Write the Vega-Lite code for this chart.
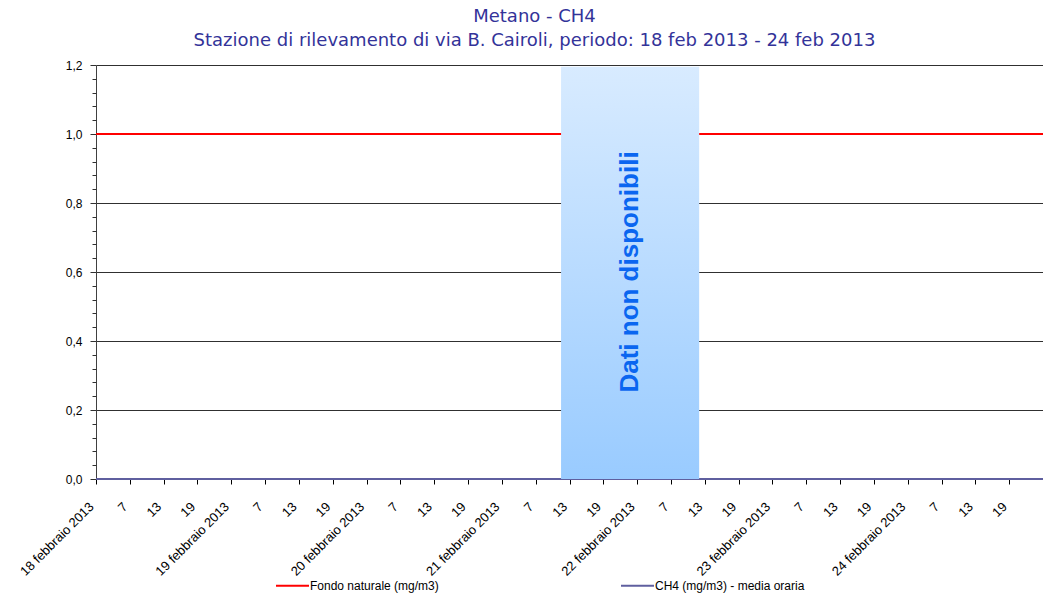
{
  "$schema": "https://vega.github.io/schema/vega-lite/v6.json",
  "width": 947,
  "height": 414,
  "autosize": {"type": "none"},
  "padding": {"left": 96, "top": 65, "right": 0, "bottom": 115},
  "background": "white",
  "config": {
    "view": {"stroke": null},
    "font": "Liberation Sans",
    "axis": {"labelOverlap": false},
    "axisX": {"labelOverlap": false, "labelBound": false, "labelFlush": false}
  },
  "title": {
    "text": ["Metano - CH4", "Stazione di rilevamento di via B. Cairoli, periodo: 18 feb 2013 - 24 feb 2013"],
    "font": "DejaVu Sans",
    "fontSize": 18,
    "fontWeight": "normal",
    "color": "#333399",
    "lineHeight": 24,
    "anchor": "middle",
    "dx": -35,
    "offset": 9
  },
  "datasets": {
    "serie": [
      {"t": "2013-02-18T01:00:00Z", "serie": "Fondo naturale  (mg/m3)", "valore": 1.0},
      {"t": "2013-02-18T07:00:00Z", "serie": "Fondo naturale  (mg/m3)", "valore": 1.0},
      {"t": "2013-02-18T13:00:00Z", "serie": "Fondo naturale  (mg/m3)", "valore": 1.0},
      {"t": "2013-02-18T19:00:00Z", "serie": "Fondo naturale  (mg/m3)", "valore": 1.0},
      {"t": "2013-02-19T01:00:00Z", "serie": "Fondo naturale  (mg/m3)", "valore": 1.0},
      {"t": "2013-02-19T07:00:00Z", "serie": "Fondo naturale  (mg/m3)", "valore": 1.0},
      {"t": "2013-02-19T13:00:00Z", "serie": "Fondo naturale  (mg/m3)", "valore": 1.0},
      {"t": "2013-02-19T19:00:00Z", "serie": "Fondo naturale  (mg/m3)", "valore": 1.0},
      {"t": "2013-02-20T01:00:00Z", "serie": "Fondo naturale  (mg/m3)", "valore": 1.0},
      {"t": "2013-02-20T07:00:00Z", "serie": "Fondo naturale  (mg/m3)", "valore": 1.0},
      {"t": "2013-02-20T13:00:00Z", "serie": "Fondo naturale  (mg/m3)", "valore": 1.0},
      {"t": "2013-02-20T19:00:00Z", "serie": "Fondo naturale  (mg/m3)", "valore": 1.0},
      {"t": "2013-02-21T01:00:00Z", "serie": "Fondo naturale  (mg/m3)", "valore": 1.0},
      {"t": "2013-02-21T07:00:00Z", "serie": "Fondo naturale  (mg/m3)", "valore": 1.0},
      {"t": "2013-02-21T13:00:00Z", "serie": "Fondo naturale  (mg/m3)", "valore": 1.0},
      {"t": "2013-02-21T19:00:00Z", "serie": "Fondo naturale  (mg/m3)", "valore": 1.0},
      {"t": "2013-02-22T01:00:00Z", "serie": "Fondo naturale  (mg/m3)", "valore": 1.0},
      {"t": "2013-02-22T07:00:00Z", "serie": "Fondo naturale  (mg/m3)", "valore": 1.0},
      {"t": "2013-02-22T13:00:00Z", "serie": "Fondo naturale  (mg/m3)", "valore": 1.0},
      {"t": "2013-02-22T19:00:00Z", "serie": "Fondo naturale  (mg/m3)", "valore": 1.0},
      {"t": "2013-02-23T01:00:00Z", "serie": "Fondo naturale  (mg/m3)", "valore": 1.0},
      {"t": "2013-02-23T07:00:00Z", "serie": "Fondo naturale  (mg/m3)", "valore": 1.0},
      {"t": "2013-02-23T13:00:00Z", "serie": "Fondo naturale  (mg/m3)", "valore": 1.0},
      {"t": "2013-02-23T19:00:00Z", "serie": "Fondo naturale  (mg/m3)", "valore": 1.0},
      {"t": "2013-02-24T01:00:00Z", "serie": "Fondo naturale  (mg/m3)", "valore": 1.0},
      {"t": "2013-02-24T07:00:00Z", "serie": "Fondo naturale  (mg/m3)", "valore": 1.0},
      {"t": "2013-02-24T13:00:00Z", "serie": "Fondo naturale  (mg/m3)", "valore": 1.0},
      {"t": "2013-02-24T19:00:00Z", "serie": "Fondo naturale  (mg/m3)", "valore": 1.0},
      {"t": "2013-02-25T01:00:00Z", "serie": "Fondo naturale  (mg/m3)", "valore": 1.0},
      {"t": "2013-02-18T01:00:00Z", "serie": "CH4 (mg/m3)  - media oraria", "valore": 0.0},
      {"t": "2013-02-18T07:00:00Z", "serie": "CH4 (mg/m3)  - media oraria", "valore": 0.0},
      {"t": "2013-02-18T13:00:00Z", "serie": "CH4 (mg/m3)  - media oraria", "valore": 0.0},
      {"t": "2013-02-18T19:00:00Z", "serie": "CH4 (mg/m3)  - media oraria", "valore": 0.0},
      {"t": "2013-02-19T01:00:00Z", "serie": "CH4 (mg/m3)  - media oraria", "valore": 0.0},
      {"t": "2013-02-19T07:00:00Z", "serie": "CH4 (mg/m3)  - media oraria", "valore": 0.0},
      {"t": "2013-02-19T13:00:00Z", "serie": "CH4 (mg/m3)  - media oraria", "valore": 0.0},
      {"t": "2013-02-19T19:00:00Z", "serie": "CH4 (mg/m3)  - media oraria", "valore": 0.0},
      {"t": "2013-02-20T01:00:00Z", "serie": "CH4 (mg/m3)  - media oraria", "valore": 0.0},
      {"t": "2013-02-20T07:00:00Z", "serie": "CH4 (mg/m3)  - media oraria", "valore": 0.0},
      {"t": "2013-02-20T13:00:00Z", "serie": "CH4 (mg/m3)  - media oraria", "valore": 0.0},
      {"t": "2013-02-20T19:00:00Z", "serie": "CH4 (mg/m3)  - media oraria", "valore": 0.0},
      {"t": "2013-02-21T01:00:00Z", "serie": "CH4 (mg/m3)  - media oraria", "valore": 0.0},
      {"t": "2013-02-21T07:00:00Z", "serie": "CH4 (mg/m3)  - media oraria", "valore": 0.0},
      {"t": "2013-02-21T11:00:00Z", "serie": "CH4 (mg/m3)  - media oraria", "valore": 0.0},
      {"t": "2013-02-22T12:00:00Z", "serie": "CH4 (mg/m3)  - media oraria", "valore": 0.0},
      {"t": "2013-02-22T13:00:00Z", "serie": "CH4 (mg/m3)  - media oraria", "valore": 0.0},
      {"t": "2013-02-22T19:00:00Z", "serie": "CH4 (mg/m3)  - media oraria", "valore": 0.0},
      {"t": "2013-02-23T01:00:00Z", "serie": "CH4 (mg/m3)  - media oraria", "valore": 0.0},
      {"t": "2013-02-23T07:00:00Z", "serie": "CH4 (mg/m3)  - media oraria", "valore": 0.0},
      {"t": "2013-02-23T13:00:00Z", "serie": "CH4 (mg/m3)  - media oraria", "valore": 0.0},
      {"t": "2013-02-23T19:00:00Z", "serie": "CH4 (mg/m3)  - media oraria", "valore": 0.0},
      {"t": "2013-02-24T01:00:00Z", "serie": "CH4 (mg/m3)  - media oraria", "valore": 0.0},
      {"t": "2013-02-24T07:00:00Z", "serie": "CH4 (mg/m3)  - media oraria", "valore": 0.0},
      {"t": "2013-02-24T13:00:00Z", "serie": "CH4 (mg/m3)  - media oraria", "valore": 0.0},
      {"t": "2013-02-24T19:00:00Z", "serie": "CH4 (mg/m3)  - media oraria", "valore": 0.0},
      {"t": "2013-02-25T01:00:00Z", "serie": "CH4 (mg/m3)  - media oraria", "valore": 0.0}
    ],
    "mancanti": [
      {"inizio": "2013-02-21T11:30:00Z", "fine": "2013-02-22T12:00:00Z", "centro": "2013-02-21T23:45:00Z", "ymin": 0, "ymax": 1.195, "ytesto": 0.6, "etichetta": "Dati non disponibili"}
    ]
  },
  "resolve": {"axis": {"y": "independent"}},
  "layer": [
    {
      "data": {"name": "serie"},
      "mark": {"type": "line", "strokeWidth": 2},
      "encoding": {
        "x": {
          "field": "t", "type": "temporal",
          "scale": {"type": "utc", "domain": [{"year": 2013, "month": 2, "date": 18, "hours": 1, "utc": true}, {"year": 2013, "month": 2, "date": 25, "hours": 1, "utc": true}]},
          "axis": {
            "title": null,
            "tickCount": 40,
            "values": [
              {"year": 2013, "month": 2, "date": 18, "hours": 1, "utc": true},
              {"year": 2013, "month": 2, "date": 18, "hours": 7, "utc": true},
              {"year": 2013, "month": 2, "date": 18, "hours": 13, "utc": true},
              {"year": 2013, "month": 2, "date": 18, "hours": 19, "utc": true},
              {"year": 2013, "month": 2, "date": 19, "hours": 1, "utc": true},
              {"year": 2013, "month": 2, "date": 19, "hours": 7, "utc": true},
              {"year": 2013, "month": 2, "date": 19, "hours": 13, "utc": true},
              {"year": 2013, "month": 2, "date": 19, "hours": 19, "utc": true},
              {"year": 2013, "month": 2, "date": 20, "hours": 1, "utc": true},
              {"year": 2013, "month": 2, "date": 20, "hours": 7, "utc": true},
              {"year": 2013, "month": 2, "date": 20, "hours": 13, "utc": true},
              {"year": 2013, "month": 2, "date": 20, "hours": 19, "utc": true},
              {"year": 2013, "month": 2, "date": 21, "hours": 1, "utc": true},
              {"year": 2013, "month": 2, "date": 21, "hours": 7, "utc": true},
              {"year": 2013, "month": 2, "date": 21, "hours": 13, "utc": true},
              {"year": 2013, "month": 2, "date": 21, "hours": 19, "utc": true},
              {"year": 2013, "month": 2, "date": 22, "hours": 1, "utc": true},
              {"year": 2013, "month": 2, "date": 22, "hours": 7, "utc": true},
              {"year": 2013, "month": 2, "date": 22, "hours": 13, "utc": true},
              {"year": 2013, "month": 2, "date": 22, "hours": 19, "utc": true},
              {"year": 2013, "month": 2, "date": 23, "hours": 1, "utc": true},
              {"year": 2013, "month": 2, "date": 23, "hours": 7, "utc": true},
              {"year": 2013, "month": 2, "date": 23, "hours": 13, "utc": true},
              {"year": 2013, "month": 2, "date": 23, "hours": 19, "utc": true},
              {"year": 2013, "month": 2, "date": 24, "hours": 1, "utc": true},
              {"year": 2013, "month": 2, "date": 24, "hours": 7, "utc": true},
              {"year": 2013, "month": 2, "date": 24, "hours": 13, "utc": true},
              {"year": 2013, "month": 2, "date": 24, "hours": 19, "utc": true}
            ],
            "labelExpr": "utchours(datum.value) == 1 ? utcdate(datum.value) + ' febbraio 2013' : '' + utchours(datum.value)",
            "labelAngle": -45,
            "labelAlign": "right",
            "labelBaseline": "top",
            "labelFont": "Liberation Sans",
            "labelFontSize": 13,
            "labelColor": "#000000",
            "labelPadding": 16,
            "labelOffset": -9,
            "labelOverlap": false,
            "labelFlush": false,
            "labelBound": false,
            "tickSize": 5,
            "tickColor": "#000000",
            "domainColor": "#000000",
            "domainWidth": 1,
            "grid": false
          }
        },
        "y": {
          "field": "valore", "type": "quantitative",
          "scale": {"domain": [0, 1.2], "nice": false, "zero": true},
          "axis": {
            "title": null,
            "orient": "left",
            "tickCount": 10,
            "values": [0, 0.2, 0.4, 0.6, 0.8, 1.0, 1.2],
            "labelExpr": "replace(format(datum.value, '.1f'), '.', ',')",
            "labelFont": "Liberation Sans",
            "labelFontSize": 12,
            "labelColor": "#000000",
            "labelPadding": 8,
            "tickSize": 6,
            "tickColor": "#303030",
            "domainColor": "#404040",
            "grid": true,
            "gridColor": "#303030",
            "gridOpacity": 1,
            "gridWidth": 1
          }
        },
        "color": {
          "field": "serie", "type": "nominal",
          "scale": {"domain": ["Fondo naturale  (mg/m3)", "CH4 (mg/m3)  - media oraria"], "range": ["#ff0000", "#5f5f9f"]},
          "legend": {
            "title": null,
            "orient": "none",
            "direction": "horizontal",
            "columns": 2,
            "columnPadding": 174,
            "legendX": 179,
            "legendY": 503,
            "symbolType": "stroke",
            "symbolSize": 1089,
            "symbolStrokeWidth": 2,
            "symbolOffset": 0,
            "labelOffset": 0,
            "labelFont": "Liberation Sans",
            "labelFontSize": 12,
            "labelColor": "#000000",
            "labelLimit": 300,
            "padding": 0
          }
        }
      }
    },
    {
      "data": {"name": "mancanti"},
      "mark": {
        "type": "rect",
        "color": {"gradient": "linear", "x1": 0, "y1": 0, "x2": 0, "y2": 1, "stops": [{"offset": 0, "color": "#d8ebff"}, {"offset": 1, "color": "#99cbff"}]}
      },
      "encoding": {
        "x": {"field": "inizio", "type": "temporal"},
        "x2": {"field": "fine"},
        "y": {
          "field": "ymin", "type": "quantitative",
          "axis": {
            "title": null,
            "orient": "left",
            "tickCount": 40,
            "values": [0.04, 0.08, 0.12, 0.16, 0.24, 0.28, 0.32, 0.36, 0.44, 0.48, 0.52, 0.56, 0.64, 0.68, 0.72, 0.76, 0.84, 0.88, 0.92, 0.96, 1.04, 1.08, 1.12, 1.16],
            "labels": false,
            "domain": false,
            "grid": false,
            "tickSize": 4,
            "tickColor": "#303030"
          }
        },
        "y2": {"field": "ymax"}
      }
    },
    {
      "data": {"name": "mancanti"},
      "mark": {"type": "text", "angle": 270, "font": "Liberation Sans", "fontSize": 26, "fontWeight": "bold", "color": "#0a66f0", "align": "center", "baseline": "middle"},
      "encoding": {
        "x": {"field": "centro", "type": "temporal"},
        "y": {"field": "ytesto", "type": "quantitative", "axis": null},
        "text": {"field": "etichetta"}
      }
    }
  ]
}
